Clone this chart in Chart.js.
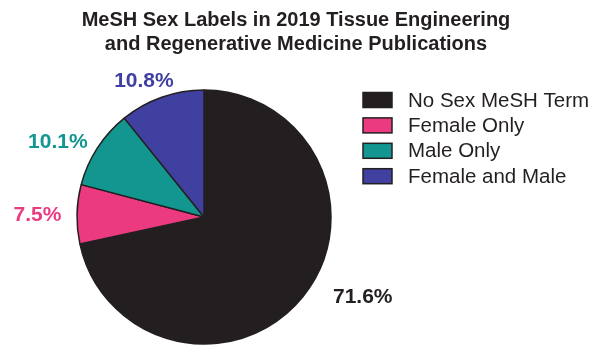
<!DOCTYPE html>
<html><head><meta charset="utf-8">
<script src="https://cdn.jsdelivr.net/npm/chart.js@4.4.0/dist/chart.umd.min.js"></script>
<style>html,body{margin:0;padding:0;background:#fff;overflow:hidden}#wrap{position:relative;width:594px;height:347px}</style>
</head><body><div id="wrap"><canvas id="c" width="594" height="347"></canvas></div>
<script>
const categories = ['No Sex MeSH Term', 'Female Only', 'Male Only', 'Female and Male'];
const percentages = [71.6, 7.5, 10.1, 10.8];
const valueLabels = ['71.6%', '7.5%', '10.1%', '10.8%'];
const titleLines = ['MeSH Sex Labels in 2019 Tissue Engineering', 'and Regenerative Medicine Publications'];

// styling (not data)
const sliceColors = ['#231f20', '#ec3a80', '#12968f', '#3f40a0'];
const labelColors = ['#231f20', '#ec3a80', '#12968f', '#3f40a0'];
const labelPlacement = [[-12, 51], [-0.6, 39.5], [-6, 37], [-4.4, 21.6]]; // [deg offset from mid-angle, px beyond radius]
const FONT = '"Liberation Sans", Arial, Helvetica, sans-serif';
const INK = '#231f20';

const decor = {
  id: 'decor',
  afterDraw(chart) {
    const ctx = chart.ctx;
    ctx.save();
    // title
    ctx.fillStyle = INK;
    ctx.textAlign = 'center';
    ctx.textBaseline = 'alphabetic';
    ctx.font = 'bold 20px ' + FONT;
    ctx.fillText(titleLines[0], 296, 26);
    ctx.fillText(titleLines[1], 296, 50);
    // legend
    ctx.textAlign = 'left';
    ctx.textBaseline = 'middle';
    ctx.font = '20.5px ' + FONT;
    categories.forEach((c, i) => {
      const yc = 100 + i * 25.4;
      ctx.fillStyle = sliceColors[i];
      ctx.fillRect(363, yc - 7.5, 29, 15);
      ctx.lineWidth = 1.5;
      ctx.strokeStyle = INK;
      ctx.strokeRect(363, yc - 7.5, 29, 15);
      ctx.fillStyle = INK;
      ctx.fillText(c, 408, yc + 1);
    });
    // value labels
    const meta = chart.getDatasetMeta(0);
    ctx.textAlign = 'center';
    ctx.font = 'bold 21px ' + FONT;
    meta.data.forEach((arc, i) => {
      const p = arc.getProps(['x', 'y', 'startAngle', 'endAngle', 'outerRadius'], true);
      const a = (p.startAngle + p.endAngle) / 2 + labelPlacement[i][0] * Math.PI / 180;
      const d = p.outerRadius + labelPlacement[i][1];
      ctx.fillStyle = labelColors[i];
      ctx.fillText(valueLabels[i], p.x + Math.cos(a) * d, p.y + Math.sin(a) * d);
    });
    ctx.restore();
  }
};

new Chart(document.getElementById('c'), {
  type: 'pie',
  data: {
    labels: categories,
    datasets: [{
      data: percentages,
      backgroundColor: sliceColors,
      borderColor: INK,
      borderWidth: 1.5,
      radius: 127
    }]
  },
  options: {
    responsive: false,
    devicePixelRatio: 1,
    animation: false,
    events: [],
    layout: { padding: { left: 76, right: 262, top: 89, bottom: 2 } },
    plugins: { legend: { display: false }, title: { display: false }, tooltip: { enabled: false } }
  },
  plugins: [decor]
});
</script>
</body></html>
